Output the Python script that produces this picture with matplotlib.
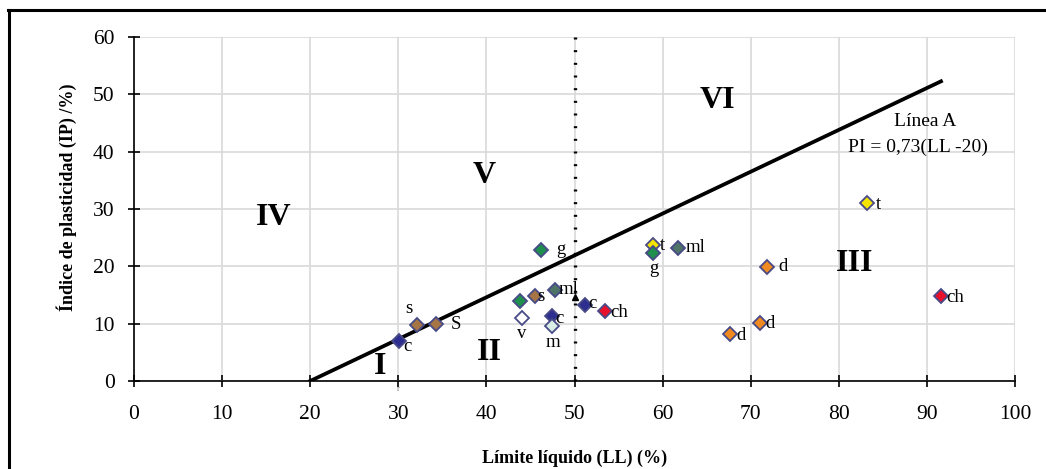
import numpy as np
import matplotlib
matplotlib.use("Agg")
from matplotlib import pyplot as plt
from matplotlib.lines import Line2D

# datos de los suelos (LL, IP)
ll = [30.1, 32.1, 34.3, 46.2, 43.8, 45.5, 47.8, 44.0, 47.4, 47.5,
      51.2, 53.5, 58.9, 58.9, 61.7, 71.9, 67.6, 71.1, 83.2, 91.6]
ip = [7.0, 9.8, 9.9, 22.9, 14.0, 14.8, 15.9, 11.0, 11.3, 9.6,
      13.3, 12.2, 23.7, 22.3, 23.2, 19.9, 8.2, 10.1, 31.1, 14.8]
tipo = ['c', 's', 's', 'g', 'g', 's', 'ml', 'v', 'c', 'm',
        'c', 'ch', 't', 'g', 'ml', 'd', 'd', 'd', 't', 'ch']
etiqueta = ['c', 's', 'S', 'g', '', 's', 'ml', 'v', 'c', 'm',
            'c', 'ch', 't', 'g', 'ml', 'd', 'd', 'd', 't', 'ch']
# desplazamiento de la etiqueta en puntos
desp = [(6, -4), (-6, 12), (14, 0), (14, 0), (0, 0), (4, 0), (10, 0), (0, -11), (6, -2), (0, -12),
        (5, 1), (10, -1), (7, 0), (1, -11), (13, 0), (11, 0), (8, -1), (7, 0), (8, -1), (10, -1)]

colores = {'c': '#2e2e90', 's': '#a57545', 'g': '#1f8f4f', 'ml': '#4e7466',
           'v': '#ffffff', 'm': '#d9efe6', 'ch': '#e8102a', 't': '#f5e400', 'd': '#f08a20'}

# linea A
ll_a = [20, 91.6]
pi_a = [0.73 * (x - 20) for x in ll_a]

zonas = ['IV', 'V', 'VI', 'III', 'II', 'I']
zonas_x = [15.8, 39.7, 66.2, 81.8, 40.3, 27.9]
zonas_y = [28.6, 35.8, 49.0, 20.5, 5.0, 2.6]

plt.rcParams['font.family'] = ['Liberation Serif', 'DejaVu Serif']

fig = plt.figure(figsize=(10.46, 4.69), dpi=100)
ax = fig.add_axes([134/1046, 1-381/469, (1015-134)/1046, (381-37)/469])

ax.grid(True, color='#d9d9d9', linewidth=1.2, zorder=0)
ax.set_axisbelow(True)

ax.plot(ll_a, pi_a, color='black', linewidth=2.7, zorder=3)
ax.plot([50, 50], [0, 60], color='black', linewidth=2.4, linestyle=(0, (0.6, 3.2)), zorder=3)
ax.plot([50], [14.6], marker='^', color='black', markersize=4, zorder=4)

for i in range(len(ll)):
    ax.plot(ll[i], ip[i], marker='D', markersize=6.8, markerfacecolor=colores[tipo[i]],
            markeredgecolor='#474a86', markeredgewidth=1.3, linestyle='none', zorder=5)
    if etiqueta[i] != '':
        ax.annotate(etiqueta[i], (ll[i], ip[i]), xytext=desp[i], textcoords='offset points',
                    ha='center', va='center', fontsize=13.5, zorder=6)

ax.annotate('r', (30, 0), xytext=(0, -3), textcoords='offset points', ha='center', va='top',
            fontsize=6, color='#888888')

for z, x, y in zip(zonas, zonas_x, zonas_y):
    ax.text(x, y, z, fontsize=23, fontweight='bold', ha='center', va='center', zorder=6)

ax.text(89.8, 45.2, 'Línea A', fontsize=14, ha='center', va='center')
ax.text(89.0, 40.7, 'PI = 0,73(LL -20)', fontsize=14, ha='center', va='center')

ax.set_xlim(0, 100)
ax.set_ylim(0, 60)
ax.set_xticks(np.arange(0, 101, 10))
ax.set_yticks(np.arange(0, 61, 10))
ax.spines['top'].set_visible(False)
ax.spines['right'].set_visible(False)
ax.spines['left'].set_linewidth(1.2)
ax.spines['bottom'].set_linewidth(1.2)
ax.tick_params(direction='inout', length=8, width=1.2, labelsize=15.5)
ax.tick_params(axis='x', pad=13)
ax.tick_params(axis='y', pad=10)

fig.text(575/1046, 1-458/469, 'Límite líquido (LL) (%)', fontsize=13, fontweight='bold',
         ha='center', va='center')
fig.text(67/1046, 1-197/469, 'Índice de plasticidad (IP) /%)', fontsize=13, fontweight='bold',
         ha='center', va='center', rotation=90)

# marco exterior
fig.add_artist(Line2D([9/1046, 9/1046], [0, 1-10/469], color='black', linewidth=2.2))
fig.add_artist(Line2D([8/1046, 1], [1-10/469, 1-10/469], color='black', linewidth=2.2))

fig.savefig('out.png', dpi=100)
